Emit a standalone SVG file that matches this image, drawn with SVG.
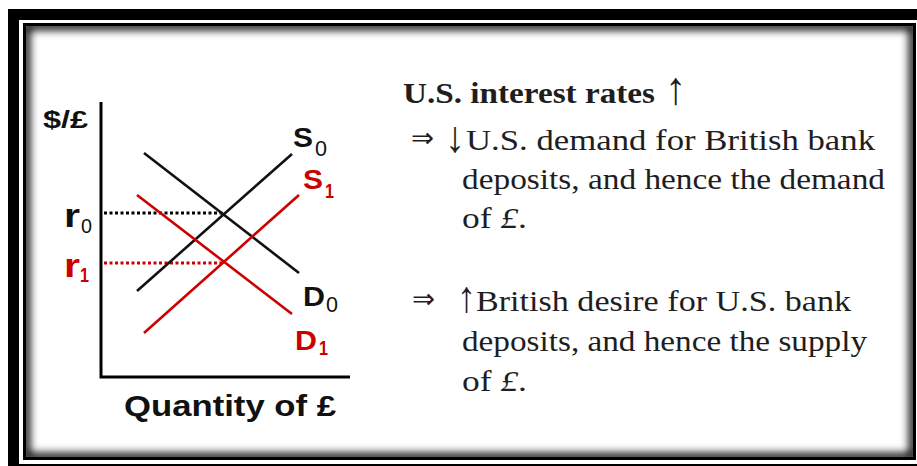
<svg xmlns="http://www.w3.org/2000/svg" width="917" height="466" viewBox="0 0 917 466">
  <defs>
    <clipPath id="innerClip">
      <rect x="26" y="26" width="887" height="431"/>
    </clipPath>
    <filter id="blur" x="-5%" y="-5%" width="110%" height="110%">
      <feGaussianBlur stdDeviation="4"/>
    </filter>
    <style>
      .ax { stroke: #000; stroke-width: 3; fill: none; }
      .blk { stroke: #111; stroke-width: 2.6; fill: none; }
      .red { stroke: #cc0000; stroke-width: 2.6; fill: none; }
      .dotk { stroke: #000; stroke-width: 3; stroke-dasharray: 3 2.5; fill: none; }
      .dotr { stroke: #cc0000; stroke-width: 3; stroke-dasharray: 3 2.5; fill: none; }
      .lab { font-family: "Liberation Sans", Arial, sans-serif; font-weight: bold; }
      .sub { font-family: "Liberation Sans", Arial, sans-serif; font-weight: normal; }
      .k { fill: #111; }
      .r { fill: #cc0000; }
      .ser { font-family: "Liberation Serif", "DejaVu Serif", serif; fill: #1e1e1e; font-size: 29px; }
      .arw { font-family: "Liberation Serif", "DejaVu Serif", serif; fill: #1e1e1e; }
      .imp { font-family: "DejaVu Sans", sans-serif; fill: #1e1e1e; }
    </style>
  </defs>

  <!-- frame -->
  <g id="frame">
    <rect x="0" y="0" width="917" height="466" fill="#fff"/>
    <rect x="8" y="9" width="940" height="480" fill="#000"/>
    <rect x="19" y="20" width="930" height="444" fill="#fff"/>
    <rect x="23" y="23" width="893" height="437" fill="#000"/>
    <rect x="26" y="26" width="887" height="431" fill="#fff"/>
    <g clip-path="url(#innerClip)">
      <rect x="26" y="26" width="887" height="431" fill="none" stroke="#000" stroke-width="8" filter="url(#blur)"/>
    </g>
  </g>

  <!-- axes -->
  <g id="axes">
    <polyline class="ax" points="101,102 101,377 350,377"/>
  </g>

  <!-- curves -->
  <g id="connectors">
    <line class="dotk" x1="104" y1="213" x2="223" y2="213"/>
    <line class="dotr" x1="104" y1="263" x2="223" y2="263"/>
    <line id="S0" class="blk" x1="137" y1="291" x2="292" y2="154"/>
    <line id="D0" class="blk" x1="144" y1="153" x2="299" y2="273"/>
    <line id="S1" class="red" x1="144" y1="333" x2="299" y2="195"/>
    <line id="D1" class="red" x1="137" y1="195" x2="292" y2="314"/>
  </g>

  <!-- graph labels -->
  <g id="label-yaxis">
    <text class="lab k" x="43" y="128" font-size="24" textLength="45" lengthAdjust="spacingAndGlyphs">$/£</text>
  </g>
  <g id="label-xaxis">
    <text class="lab k" x="124" y="416" font-size="30" textLength="212" lengthAdjust="spacingAndGlyphs">Quantity of £</text>
  </g>
  <g id="label-S0">
    <text class="lab k" x="293" y="147" font-size="28" textLength="20" lengthAdjust="spacingAndGlyphs">S</text>
    <text class="sub k" x="315" y="156" font-size="22" textLength="12" lengthAdjust="spacingAndGlyphs">0</text>
  </g>
  <g id="label-S1">
    <text class="lab r" x="303" y="189" font-size="28" textLength="20" lengthAdjust="spacingAndGlyphs">S</text>
    <text class="lab r" x="325" y="198" font-size="21" textLength="9" lengthAdjust="spacingAndGlyphs">1</text>
  </g>
  <g id="label-D0">
    <text class="lab k" x="303" y="306" font-size="28" textLength="22" lengthAdjust="spacingAndGlyphs">D</text>
    <text class="sub k" x="326" y="312" font-size="22" textLength="12" lengthAdjust="spacingAndGlyphs">0</text>
  </g>
  <g id="label-D1">
    <text class="lab r" x="295" y="350" font-size="28" textLength="22" lengthAdjust="spacingAndGlyphs">D</text>
    <text class="lab r" x="319" y="355" font-size="21" textLength="9" lengthAdjust="spacingAndGlyphs">1</text>
  </g>
  <g id="label-r0">
    <text class="lab k" x="64" y="227" font-size="34" textLength="16" lengthAdjust="spacingAndGlyphs">r</text>
    <text class="sub k" x="81" y="233" font-size="21" textLength="11" lengthAdjust="spacingAndGlyphs">0</text>
  </g>
  <g id="label-r1">
    <text class="lab r" x="64" y="277" font-size="34" textLength="16" lengthAdjust="spacingAndGlyphs">r</text>
    <text class="lab r" x="80" y="282" font-size="21" textLength="9" lengthAdjust="spacingAndGlyphs">1</text>
  </g>

  <!-- explanatory text -->
  <g id="text-heading">
    <text class="ser" x="403" y="103" font-weight="bold" textLength="252" lengthAdjust="spacingAndGlyphs">U.S. interest rates</text>
    <text class="arw" x="665" y="104" font-size="46" font-weight="bold" textLength="21" lengthAdjust="spacingAndGlyphs">↑</text>
  </g>
  <g id="text-demand">
    <text class="imp" x="411" y="147" font-size="27" textLength="23" lengthAdjust="spacingAndGlyphs">⇒</text>
    <text class="arw" x="445" y="152" font-size="44" textLength="20" lengthAdjust="spacingAndGlyphs">↓</text>
    <text class="ser" x="466" y="150" textLength="409" lengthAdjust="spacingAndGlyphs">U.S. demand for British bank</text>
    <text class="ser" x="462" y="189" textLength="423" lengthAdjust="spacingAndGlyphs">deposits, and hence the demand</text>
    <text class="ser" x="462" y="228" textLength="65" lengthAdjust="spacingAndGlyphs">of <tspan font-style="italic">£</tspan>.</text>
  </g>
  <g id="text-supply">
    <text class="imp" x="412" y="308" font-size="27" textLength="23" lengthAdjust="spacingAndGlyphs">⇒</text>
    <text class="arw" x="457" y="312" font-size="44" font-weight="bold" textLength="19" lengthAdjust="spacingAndGlyphs">↑</text>
    <text class="ser" x="476" y="311" textLength="375" lengthAdjust="spacingAndGlyphs">British desire for U.S. bank</text>
    <text class="ser" x="462" y="351" textLength="405" lengthAdjust="spacingAndGlyphs">deposits, and hence the supply</text>
    <text class="ser" x="462" y="391" textLength="65" lengthAdjust="spacingAndGlyphs">of <tspan font-style="italic">£</tspan>.</text>
  </g>
</svg>
